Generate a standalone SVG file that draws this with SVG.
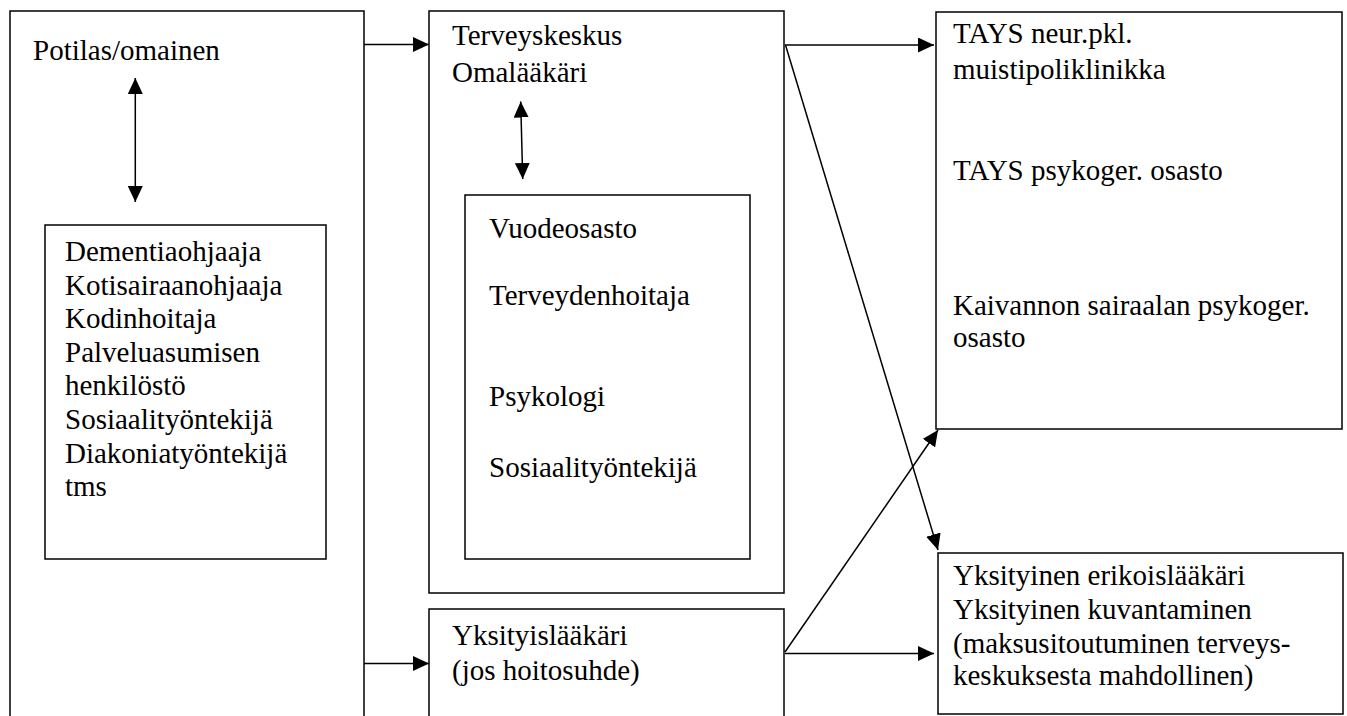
<svg xmlns="http://www.w3.org/2000/svg" width="1347" height="716" viewBox="0 0 1347 716" font-family="Liberation Serif, serif">
<style>
.box{fill:none;stroke:#000;stroke-width:1.5}
.t{font-size:29px;fill:#000}
.c{stroke:#000;stroke-width:1.5;fill:none}
</style>
<defs>
<marker id="ah" markerUnits="userSpaceOnUse" markerWidth="16" markerHeight="15" refX="16" refY="7.5" orient="auto-start-reverse" viewBox="0 0 16 15">
<path d="M0,0 L16,7.5 L0,15 z" fill="#000"/>
</marker>
</defs>
<rect width="1347" height="716" fill="#fff"/>
<g id="potilas" font-family="Liberation Serif">
<rect class="box" x="10" y="11" width="354" height="730"/>
<text class="t" x="33" y="60">Potilas/omainen</text>
</g>
<g id="kotihoito" font-family="Liberation Serif">
<rect class="box" x="45" y="225" width="281" height="334"/>
<text class="t" x="65" y="261">Dementiaohjaaja</text>
<text class="t" x="65" y="294.6">Kotisairaanohjaaja</text>
<text class="t" x="65" y="328.2">Kodinhoitaja</text>
<text class="t" x="65" y="361.8">Palveluasumisen</text>
<text class="t" x="65" y="395.4">henkilöstö</text>
<text class="t" x="65" y="429">Sosiaalityöntekijä</text>
<text class="t" x="65" y="462.6">Diakoniatyöntekijä</text>
<text class="t" x="65" y="496.2">tms</text>
</g>
<g id="terveyskeskus" font-family="Liberation Serif">
<rect class="box" x="429" y="11" width="355" height="582"/>
<text class="t" x="452" y="45">Terveyskeskus</text>
<text class="t" x="452" y="81.5">Omalääkäri</text>
</g>
<g id="tk-sisalto" font-family="Liberation Serif">
<rect class="box" x="465" y="195" width="285" height="364"/>
<text class="t" x="489" y="237.5">Vuodeosasto</text>
<text class="t" x="489" y="305">Terveydenhoitaja</text>
<text class="t" x="489" y="405.5">Psykologi</text>
<text class="t" x="489" y="476.5">Sosiaalityöntekijä</text>
</g>
<g id="yksityislaakari" font-family="Liberation Serif">
<rect class="box" x="429" y="609" width="355" height="130"/>
<text class="t" x="452" y="645">Yksityislääkäri</text>
<text class="t" x="452" y="680">(jos hoitosuhde)</text>
</g>
<g id="tays" font-family="Liberation Serif">
<rect class="box" x="936" y="12" width="406" height="417"/>
<text class="t" x="953" y="42.5">TAYS neur.pkl.</text>
<text class="t" x="953" y="78.5">muistipoliklinikka</text>
<text class="t" x="953" y="180">TAYS psykoger. osasto</text>
<text class="t" x="953" y="315">Kaivannon sairaalan psykoger.</text>
<text class="t" x="953" y="347">osasto</text>
</g>
<g id="yksityinen" font-family="Liberation Serif">
<rect class="box" x="938" y="553" width="405" height="161"/>
<text class="t" x="953" y="585">Yksityinen erikoislääkäri</text>
<text class="t" x="953" y="618.5">Yksityinen kuvantaminen</text>
<text class="t" x="953" y="653">(maksusitoutuminen terveys-</text>
<text class="t" x="953" y="685">keskuksesta mahdollinen)</text>
</g>
<g id="connectors">
<line class="c" x1="135.3" y1="78" x2="135.3" y2="202" marker-start="url(#ah)" marker-end="url(#ah)"/>
<line class="c" x1="520.7" y1="101.5" x2="522.7" y2="179" marker-start="url(#ah)" marker-end="url(#ah)"/>
<line class="c" x1="364" y1="44.5" x2="429" y2="44.5" marker-end="url(#ah)"/>
<line class="c" x1="364" y1="663.5" x2="429" y2="663.5" marker-end="url(#ah)"/>
<line class="c" x1="785" y1="45" x2="934" y2="45" marker-end="url(#ah)"/>
<line class="c" x1="785.5" y1="45" x2="938" y2="550" marker-end="url(#ah)"/>
<line class="c" x1="785" y1="652" x2="938" y2="430" marker-end="url(#ah)"/>
<line class="c" x1="785" y1="653.5" x2="934" y2="653.5" marker-end="url(#ah)"/>
</g>
</svg>
